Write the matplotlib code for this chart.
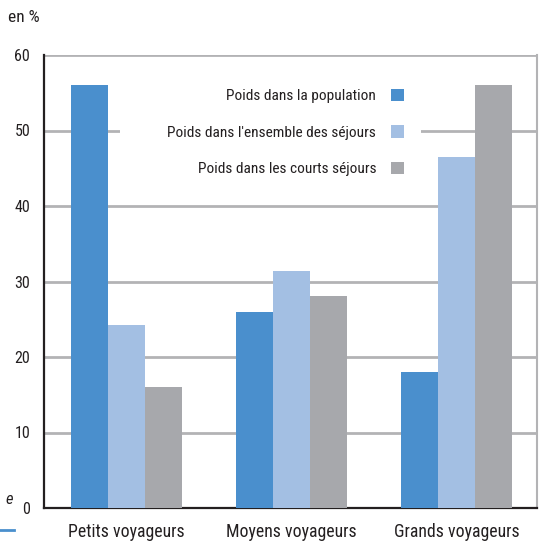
import matplotlib
matplotlib.use("Agg")
import matplotlib.pyplot as plt
from matplotlib.lines import Line2D
from matplotlib.patches import Rectangle
import numpy as np

plt.rcParams["font.family"] = ["Roboto Condensed", "DejaVu Sans"]

categories = ["Petits voyageurs", "Moyens voyageurs", "Grands voyageurs"]
series_names = ["Poids dans la population",
                "Poids dans l'ensemble des séjours",
                "Poids dans les courts séjours"]
population = [56, 26, 18]
ensemble = [24.2, 31.4, 46.5]
courts = [16, 28.1, 56]
yticks = [0, 10, 20, 30, 40, 50, 60]

colors = ["#4A8FCD", "#A3BFE3", "#A7A8AC"]
text_color = "#231F20"
grid_color = "#B3B3B5"

W, H = 539, 542
fig = plt.figure(figsize=(W / 100, H / 100), dpi=100)
ax = fig.add_axes([44 / W, 34 / H, 493 / W, 453 / H])

x = np.arange(len(categories))
width = 0.224
handles = []
for i, (vals, name, c) in enumerate(zip([population, ensemble, courts], series_names, colors)):
    h = ax.bar(x + (i - 1) * width, vals, width, color=c, label=name, zorder=3)
    handles.append(h)

ax.set_xlim(-0.5, 2.488)
ax.set_ylim(0, 60)
ax.set_yticks(yticks)
ax.yaxis.grid(True, color=grid_color, linewidth=2, zorder=0)
ax.set_axisbelow(True)
ax.tick_params(axis="y", length=0, labelsize=11.5, colors=text_color, pad=10)
ax.tick_params(axis="x", length=0, labelsize=12.8, colors=text_color, pad=11)
ax.set_xticks(x)
ax.set_xticklabels(categories)

for side in ["left", "bottom"]:
    ax.spines[side].set_color(text_color)
    ax.spines[side].set_linewidth(1.6)
ax.spines["right"].set_color(grid_color)
ax.spines["right"].set_linewidth(1.5)
ax.spines["top"].set_visible(False)

# white panel behind the legend, masking the gridlines
ax.add_patch(Rectangle(((120 - 44) / 493, (508 - 195) / 453), (421 - 120) / 493, (195 - 64) / 453,
                       transform=ax.transAxes, facecolor="white", edgecolor="none", zorder=1))

leg = ax.legend(handles=handles, loc="upper right",
                bbox_to_anchor=((421 - 44) / 493, (508 - 72) / 453),
                frameon=False, markerfirst=False, fontsize=11.1,
                handlelength=0.85, handleheight=0.85, labelspacing=1.42,
                borderpad=1.1, handletextpad=0.95, borderaxespad=0,
                alignment="right")
for t in leg.get_texts():
    t.set_color(text_color)
leg.set_zorder(5)

fig.text(8 / W, 1 - 18 / H, "en %", fontsize=12.5, color=text_color, va="center", ha="left")

# fragments along the left margin of the page
fig.text(13 / W, 1 - 500 / H, "e", fontsize=12, color=text_color, va="center",
         ha="right", style="italic")
fig.add_artist(Line2D([0, 14 / W], [1 - 530 / H, 1 - 530 / H],
                      color=colors[0], linewidth=2, transform=fig.transFigure))

fig.savefig("out.png", dpi=100)
